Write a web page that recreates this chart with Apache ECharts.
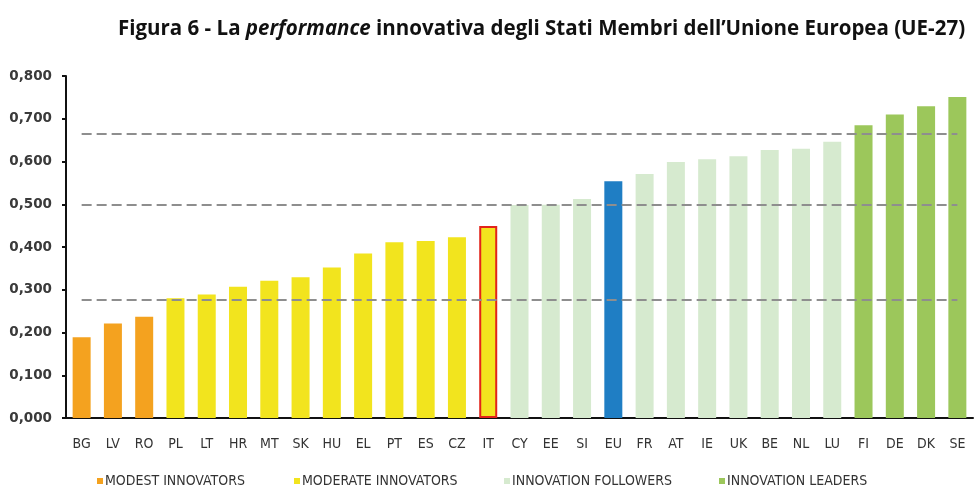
<!DOCTYPE html>
<html>
<head>
<meta charset="utf-8">
<script src="https://cdn.jsdelivr.net/npm/echarts@6/dist/echarts.min.js"></script>
<style>
  html, body { margin: 0; padding: 0; background: #fff; }
  #chart { width: 974px; height: 486px; }
</style>
</head>
<body>
<div id="chart"></div>
<script>
// Paesi UE-27 + media EU, ordinati per performance
const countries = ['BG', 'LV', 'RO', 'PL', 'LT', 'HR', 'MT', 'SK', 'HU', 'EL', 'PT', 'ES', 'CZ', 'IT',
  'CY', 'EE', 'SI', 'EU', 'FR', 'AT', 'IE', 'UK', 'BE', 'NL', 'LU', 'FI', 'DE', 'DK', 'SE'];
const scores = [0.189, 0.221, 0.237, 0.280, 0.289, 0.307, 0.321, 0.329, 0.352, 0.385, 0.411, 0.414, 0.423, 0.449,
  0.498, 0.499, 0.512, 0.554, 0.571, 0.599, 0.605, 0.612, 0.627, 0.630, 0.646, 0.685, 0.710, 0.729, 0.751];
// 0 = modest, 1 = moderate, 2 = followers, 3 = leaders
const groups = [0, 0, 0, 1, 1, 1, 1, 1, 1, 1, 1, 1, 1, 1,
  2, 2, 2, 2, 2, 2, 2, 2, 2, 2, 2, 3, 3, 3, 3];
const groupNames = ['MODEST INNOVATORS', 'MODERATE INNOVATORS', 'INNOVATION FOLLOWERS', 'INNOVATION LEADERS'];
const thresholds = [0.277, 0.499, 0.665];
const yTicks = [0, 0.1, 0.2, 0.3, 0.4, 0.5, 0.6, 0.7, 0.8];

const groupColors = ['#F4A21F', '#F2E41E', '#D6EACF', '#9CC75B'];
const legendLeft = [92, 289, 499, 714];
const narrow = '"Liberation Sans Narrow", "DejaVu Sans Condensed", "Roboto", sans-serif';

const chart = echarts.init(document.getElementById('chart'));

const series = groupNames.map((name, g) => {
  const data = countries.map((c, i) => {
    if (groups[i] !== g) return null;
    if (c === 'EU') return { value: scores[i], itemStyle: { color: '#1F7EC4' } };
    if (c === 'IT') return { value: scores[i], itemStyle: { borderColor: '#E2231A', borderWidth: 2 } };
    return scores[i];
  });
  return {
    name,
    type: 'bar',
    stack: 'tot',
    barWidth: 18,
    data,
    itemStyle: { color: groupColors[g] },
    emphasis: { disabled: true }
  };
});

// linee soglia tratteggiate
series[3].markLine = {
  silent: true,
  symbol: 'none',
  label: { show: false },
  lineStyle: { color: '#8E8E8E', type: [10, 5], width: 2.2 },
  data: thresholds.map(t => [
    { coord: [countries[0], t] },
    { coord: [countries[countries.length - 1], t] }
  ])
};

chart.setOption({
  animation: false,
  title: {
    left: 113,
    top: 14,
    text: '{b|Figura 6 - La }{i|performance}{b| innovativa degli Stati Membri dell\u2019Unione Europea (UE-27)}',
    textStyle: {
      rich: {
        b: { fontFamily: 'Open Sans', fontWeight: 'bold', fontSize: 20.5, color: '#111' },
        i: { fontFamily: 'Open Sans', fontWeight: 'bold', fontStyle: 'italic', fontSize: 20.5, color: '#111' }
      }
    }
  },
  legend: groupNames.map((name, g) => ({
    left: legendLeft[g],
    top: 469,
    itemWidth: 6,
    itemHeight: 6,
    icon: 'rect',
    data: [name],
    textStyle: { fontFamily: narrow, fontSize: 14, color: '#333', padding: [0, 0, 0, -3] }
  })),
  grid: { left: 66, right: 1, top: 76, bottom: 68 },
  xAxis: {
    type: 'category',
    data: countries,
    axisLine: { lineStyle: { color: '#111', width: 2 } },
    axisTick: { length: 4, lineStyle: { color: '#111', width: 2 } },
    axisLabel: { fontFamily: narrow, fontSize: 14, color: '#333', margin: 19, interval: 0 }
  },
  yAxis: {
    type: 'value',
    min: 0,
    max: 0.8,
    interval: 0.1,
    splitLine: { show: false },
    axisLine: { show: true, lineStyle: { color: '#111', width: 2 } },
    axisTick: { show: true, length: 4, lineStyle: { color: '#111', width: 2 } },
    axisLabel: {
      fontFamily: 'DejaVu Sans',
      fontWeight: 'bold',
      fontSize: 13.5,
      color: '#3a3a3a',
      margin: 14,
      formatter: v => (yTicks.includes(Math.round(v * 10) / 10) ? v.toFixed(3).replace('.', ',') : '')
    }
  },
  series
});
</script>
</body>
</html>
